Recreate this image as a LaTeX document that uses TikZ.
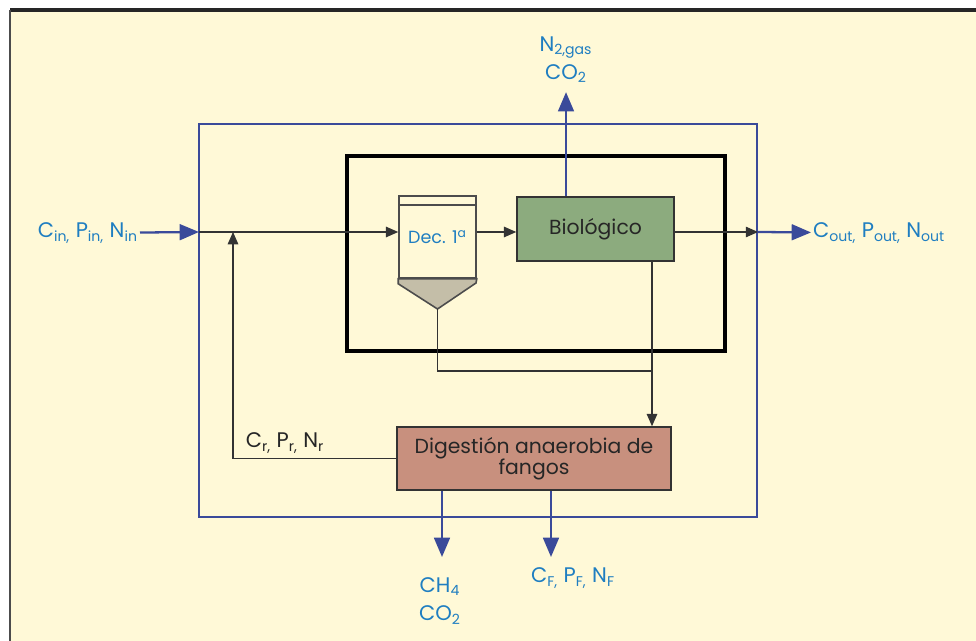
\documentclass[tikz,border=0pt]{standalone}
\usepackage{fontspec}
\setmainfont{Poppins}
\usepackage{tikz}
\usetikzlibrary{positioning}
\usetikzlibrary{arrows.meta}
\definecolor{paper}{HTML}{FFF9D7}
\definecolor{flowblue}{HTML}{3A4A9A}
\definecolor{txtblue}{HTML}{1F7EC1}
\definecolor{biogreen}{HTML}{8CAB7E}
\definecolor{digred}{HTML}{C8907E}
\definecolor{sludge}{HTML}{C4BEA8}
\tikzstyle{sysbox} = [rectangle,draw=flowblue,line width=1.3pt,minimum width=11.16cm,minimum height=7.86cm]
\tikzstyle{plant} = [rectangle,draw=black,line width=2pt,minimum width=7.56cm,minimum height=3.9cm]
\tikzstyle{proc} = [rectangle,draw=black!80,line width=0.9pt,font=\fontsize{11.6}{14}\selectfont,text=black!85]
\tikzstyle{dec} = [rectangle,draw=black!70,line width=0.9pt,minimum width=1.54cm,minimum height=1.64cm,fill=paper,text=txtblue,font=\fontsize{10}{12}\selectfont]
\tikzstyle{lbl} = [draw=none,text=txtblue,font=\fontsize{12}{16}\selectfont,align=center,inner sep=1pt]
\tikzstyle{line} = [draw=black!80,line width=0.6pt]
\tikzstyle{arr} = [line,-{Triangle[length=7pt,width=6pt]}]
\tikzstyle{bflow} = [draw=flowblue,line width=1.3pt,-{Triangle[length=11pt,width=9pt]}]

\begin{document}
\begin{tikzpicture}[x=0.02cm,y=-0.02cm]
	\useasboundingbox (0,0) rectangle (976,641);
	\fill [white] (0,0) rectangle (976,641);
	\fill [paper] (10,10) rectangle (976,641);
	\draw [black!85,line width=2.5pt] (10,10) -- (976,10);
	\draw [black!70,line width=0.6pt] (10,10) -- (10,641);
	%%%%%%%%%%%%%%%
	\node [sysbox] (sys) at (478,320.5) {};
	\node [plant] (plant) at (536,253.5) {};
	%%%%%%%%%%%%%%%
	\node [dec] (dec) at (437.5,237) {Dec. 1\textsuperscript{a}};
	\draw [line,draw=black!70,line width=0.9pt] (dec.north west) ++(0,10) -- ++(77,0);
	\coordinate (apex) at (437.5,309);
	\draw [fill=sludge,draw=black!70,line width=0.9pt] (dec.south west) -- ++(0,5) -- (apex) -- (476,283) -- (dec.south east) -- cycle;
	\node [proc,fill=biogreen,minimum width=3.14cm,minimum height=1.28cm] (bio) at (595.5,229) {Biológico};
	\node [proc,fill=digred,minimum width=5.48cm,minimum height=1.26cm,align=center,inner sep=2pt] (dig) at (534,458.5) {Digestión anaerobia de\\[-2pt]fangos};
	%%%%%%%%%%%%%%%
	\coordinate (j) at (199,232);
	\coordinate (rc) at (233,232);
	\coordinate (sl) at (652,371);
	\coordinate (ch4o) at (442,557);
	\coordinate (cfo) at (551,557);
	\node [lbl,anchor=east] (cin) at (140,233) {C\textsubscript{in,} P\textsubscript{in,} N\textsubscript{in}};
	\node [lbl,anchor=west] (cout) at (811,233) {C\textsubscript{out,} P\textsubscript{out,} N\textsubscript{out}};
	\node [lbl] (gas) at (566,60) {N\textsubscript{2,gas}\\CO\textsubscript{2}};
	\node [lbl] (ch4) at (440,601) {CH\textsubscript{4}\\CO\textsubscript{2}};
	\node [lbl] (cf) at (573,578) {C\textsubscript{F,} P\textsubscript{F,} N\textsubscript{F}};
	\node [draw=none,font=\fontsize{12}{15}\selectfont,text=black!85] (cr) at (285,443) {C\textsubscript{r,} P\textsubscript{r,} N\textsubscript{r}};
	%%%%%%%%%%%%%%%
	\draw [bflow] (cin) -- (j);
	\draw [arr] (j) -- (dec.west |- j);
	\draw [arr] (dec.east |- j) -- (bio.west |- j);
	\draw [arr] (bio.east |- j) -- (sys.east |- j);
	\draw [bflow] (sys.east |- j) -- (cout);
	\draw [bflow] (bio.north -| gas) -- ([yshift=-4pt]gas.south);
	\draw [line] (apex) |- (sl);
	\draw [arr] (bio.south -| sl) -- (dig.north -| sl);
	\draw [arr] (dig.west) -| (rc);
	\draw [bflow] (dig.south -| ch4o) -- (ch4o);
	\draw [bflow] (dig.south -| cfo) -- (cfo);
\end{tikzpicture}
\end{document}
